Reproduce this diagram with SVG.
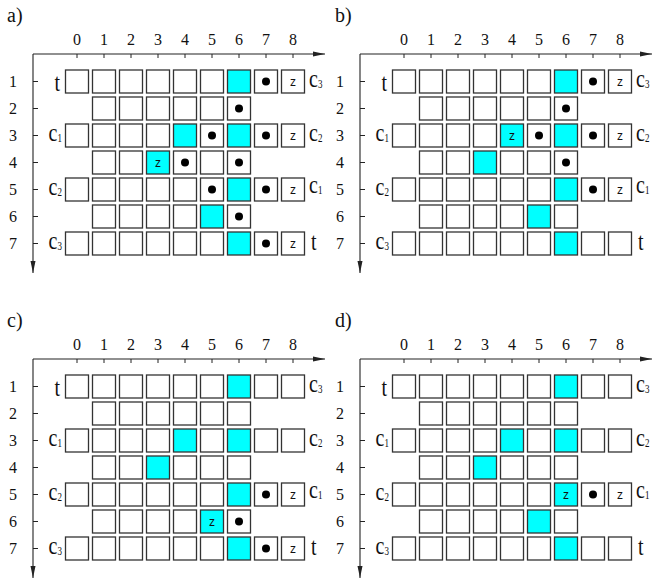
<svg xmlns="http://www.w3.org/2000/svg" xmlns:xlink="http://www.w3.org/1999/xlink" width="652" height="583" viewBox="0 0 652 583">
<style>
.bx{fill:#fff;stroke:#333;stroke-width:1.3}
.cyan{fill:#00ffff;stroke:#333;stroke-width:1.3}
.ax{stroke:#222;stroke-width:1.1;fill:none}
.tk{stroke:#222;stroke-width:1;fill:none}
.num{font-size:16px;text-anchor:middle;fill:#111}
.lab{font-size:20px;fill:#111}
.end{text-anchor:end}
.sub{font-size:9px}
.z{font-size:12px;text-anchor:middle;fill:#111}
.pl{font-size:20px;fill:#111}
.dot{fill:#000}
</style>
<defs>
<marker id="ah" markerWidth="12" markerHeight="6" refX="12" refY="3" orient="auto" markerUnits="userSpaceOnUse"><path d="M0,0.5 L12,3 L0,5.5 Z" fill="#222"/></marker>
<g id="frame">
  <g id="axes">
    <path class="ax" d="M33,54 H325" marker-end="url(#ah)"/>
    <path class="ax" d="M33,54 V273" marker-end="url(#ah)"/>
    <path class="tk" d="M77,54v4M104,54v4M131,54v4M158,54v4M185,54v4M212,54v4M239,54v4M266,54v4M293,54v4"/>
    <path class="tk" d="M33,81.5h5M33,108.5h5M33,135.5h5M33,162.5h5M33,189.5h5M33,216.5h5M33,243.5h5"/>
  </g>
  <g id="col-labels" font-family="'Liberation Serif', 'Times New Roman', 'DejaVu Serif', serif">
    <text class="num" x="77" y="45">0</text><text class="num" x="104" y="45">1</text><text class="num" x="131" y="45">2</text>
    <text class="num" x="158" y="45">3</text><text class="num" x="185" y="45">4</text><text class="num" x="212" y="45">5</text>
    <text class="num" x="239" y="45">6</text><text class="num" x="266" y="45">7</text><text class="num" x="293" y="45">8</text>
  </g>
  <g id="row-labels" font-family="'Liberation Serif', 'Times New Roman', 'DejaVu Serif', serif">
    <text class="num" x="13" y="87">1</text><text class="num" x="13" y="114">2</text><text class="num" x="13" y="141">3</text>
    <text class="num" x="13" y="168">4</text><text class="num" x="13" y="195">5</text><text class="num" x="13" y="222">6</text>
    <text class="num" x="13" y="249">7</text>
  </g>
  <g id="side-labels" font-family="'Liberation Serif', 'Times New Roman', 'DejaVu Serif', serif">
    <text class="lab end" transform="translate(60,91) scale(1,1.3)">t</text>
    <text class="lab end" transform="translate(62,140.5) scale(1,1.3)">c<tspan class="sub" dy="1.5">1</tspan></text>
    <text class="lab end" transform="translate(62,194.5) scale(1,1.3)">c<tspan class="sub" dy="1.5">2</tspan></text>
    <text class="lab end" transform="translate(62,248.5) scale(1,1.3)">c<tspan class="sub" dy="1.5">3</tspan></text>
    <text class="lab" transform="translate(309,86.5) scale(1,1.3)">c<tspan class="sub" dy="1.5">3</tspan></text>
    <text class="lab" transform="translate(309,140.5) scale(1,1.3)">c<tspan class="sub" dy="1.5">2</tspan></text>
    <text class="lab" transform="translate(309,192.5) scale(1,1.3)">c<tspan class="sub" dy="1.5">1</tspan></text>
    <text class="lab" transform="translate(311,250) scale(1,1.3)">t</text>
  </g>
</g>
<g id="grid">
  <g id="row1">
    <rect class="bx" x="65.5" y="70" width="23" height="23"/><rect class="bx" x="92.5" y="70" width="23" height="23"/><rect class="bx" x="119.5" y="70" width="23" height="23"/>
    <rect class="bx" x="146.5" y="70" width="23" height="23"/><rect class="bx" x="173.5" y="70" width="23" height="23"/><rect class="bx" x="200.5" y="70" width="23" height="23"/>
    <rect class="cyan" x="227.5" y="70" width="23" height="23"/><rect class="bx" x="254.5" y="70" width="23" height="23"/><rect class="bx" x="281.5" y="70" width="23" height="23"/>
  </g>
  <g id="row2">
    <rect class="bx" x="92.5" y="97" width="23" height="23"/><rect class="bx" x="119.5" y="97" width="23" height="23"/><rect class="bx" x="146.5" y="97" width="23" height="23"/>
    <rect class="bx" x="173.5" y="97" width="23" height="23"/><rect class="bx" x="200.5" y="97" width="23" height="23"/><rect class="bx" x="227.5" y="97" width="23" height="23"/>
  </g>
  <g id="row3">
    <rect class="bx" x="65.5" y="124" width="23" height="23"/><rect class="bx" x="92.5" y="124" width="23" height="23"/><rect class="bx" x="119.5" y="124" width="23" height="23"/>
    <rect class="bx" x="146.5" y="124" width="23" height="23"/><rect class="cyan" x="173.5" y="124" width="23" height="23"/><rect class="bx" x="200.5" y="124" width="23" height="23"/>
    <rect class="cyan" x="227.5" y="124" width="23" height="23"/><rect class="bx" x="254.5" y="124" width="23" height="23"/><rect class="bx" x="281.5" y="124" width="23" height="23"/>
  </g>
  <g id="row4">
    <rect class="bx" x="92.5" y="151" width="23" height="23"/><rect class="bx" x="119.5" y="151" width="23" height="23"/><rect class="cyan" x="146.5" y="151" width="23" height="23"/>
    <rect class="bx" x="173.5" y="151" width="23" height="23"/><rect class="bx" x="200.5" y="151" width="23" height="23"/><rect class="bx" x="227.5" y="151" width="23" height="23"/>
  </g>
  <g id="row5">
    <rect class="bx" x="65.5" y="178" width="23" height="23"/><rect class="bx" x="92.5" y="178" width="23" height="23"/><rect class="bx" x="119.5" y="178" width="23" height="23"/>
    <rect class="bx" x="146.5" y="178" width="23" height="23"/><rect class="bx" x="173.5" y="178" width="23" height="23"/><rect class="bx" x="200.5" y="178" width="23" height="23"/>
    <rect class="cyan" x="227.5" y="178" width="23" height="23"/><rect class="bx" x="254.5" y="178" width="23" height="23"/><rect class="bx" x="281.5" y="178" width="23" height="23"/>
  </g>
  <g id="row6">
    <rect class="bx" x="92.5" y="205" width="23" height="23"/><rect class="bx" x="119.5" y="205" width="23" height="23"/><rect class="bx" x="146.5" y="205" width="23" height="23"/>
    <rect class="bx" x="173.5" y="205" width="23" height="23"/><rect class="cyan" x="200.5" y="205" width="23" height="23"/><rect class="bx" x="227.5" y="205" width="23" height="23"/>
  </g>
  <g id="row7">
    <rect class="bx" x="65.5" y="232" width="23" height="23"/><rect class="bx" x="92.5" y="232" width="23" height="23"/><rect class="bx" x="119.5" y="232" width="23" height="23"/>
    <rect class="bx" x="146.5" y="232" width="23" height="23"/><rect class="bx" x="173.5" y="232" width="23" height="23"/><rect class="bx" x="200.5" y="232" width="23" height="23"/>
    <rect class="cyan" x="227.5" y="232" width="23" height="23"/><rect class="bx" x="254.5" y="232" width="23" height="23"/><rect class="bx" x="281.5" y="232" width="23" height="23"/>
  </g>
</g>
</defs>

<g id="panel-a">
  <text class="pl" x="7" y="22" font-family="'Liberation Serif', 'Times New Roman', 'DejaVu Serif', serif">a)</text>
  <use xlink:href="#frame" href="#frame"/>
  <use xlink:href="#grid" href="#grid"/>
  <g id="a-marks" font-family="'Liberation Sans', Arial, sans-serif">
    <circle class="dot" cx="266" cy="81.5" r="4"/><circle class="dot" cx="239" cy="108.5" r="4"/>
    <circle class="dot" cx="212" cy="135.5" r="4"/><circle class="dot" cx="266" cy="135.5" r="4"/>
    <circle class="dot" cx="185" cy="162.5" r="4"/><circle class="dot" cx="239" cy="162.5" r="4"/>
    <circle class="dot" cx="212" cy="189.5" r="4"/><circle class="dot" cx="266" cy="189.5" r="4"/>
    <circle class="dot" cx="239" cy="216.5" r="4"/><circle class="dot" cx="266" cy="243.5" r="4"/>
    <text class="z" x="293" y="85.5">z</text><text class="z" x="293" y="139.5">z</text><text class="z" x="158" y="166.5">z</text>
    <text class="z" x="293" y="193.5">z</text><text class="z" x="293" y="247.5">z</text>
  </g>
</g>

<g id="panel-b" transform="translate(327,0)">
  <text class="pl" x="8" y="22" font-family="'Liberation Serif', 'Times New Roman', 'DejaVu Serif', serif">b)</text>
  <use xlink:href="#frame" href="#frame"/>
  <use xlink:href="#grid" href="#grid"/>
  <g id="b-marks" font-family="'Liberation Sans', Arial, sans-serif">
    <circle class="dot" cx="266" cy="81.5" r="4"/><circle class="dot" cx="239" cy="108.5" r="4"/>
    <circle class="dot" cx="212" cy="135.5" r="4"/><circle class="dot" cx="266" cy="135.5" r="4"/>
    <circle class="dot" cx="239" cy="162.5" r="4"/><circle class="dot" cx="266" cy="189.5" r="4"/>
    <text class="z" x="293" y="85.5">z</text><text class="z" x="185" y="139.5">z</text><text class="z" x="293" y="139.5">z</text>
    <text class="z" x="293" y="193.5">z</text>
  </g>
</g>

<g id="panel-c" transform="translate(0,305)">
  <text class="pl" x="7" y="22" font-family="'Liberation Serif', 'Times New Roman', 'DejaVu Serif', serif">c)</text>
  <use xlink:href="#frame" href="#frame"/>
  <use xlink:href="#grid" href="#grid"/>
  <g id="c-marks" font-family="'Liberation Sans', Arial, sans-serif">
    <circle class="dot" cx="266" cy="189.5" r="4"/><circle class="dot" cx="239" cy="216.5" r="4"/>
    <circle class="dot" cx="266" cy="243.5" r="4"/>
    <text class="z" x="293" y="193.5">z</text><text class="z" x="212" y="220.5">z</text><text class="z" x="293" y="247.5">z</text>
  </g>
</g>

<g id="panel-d" transform="translate(327,305)">
  <text class="pl" x="8" y="22" font-family="'Liberation Serif', 'Times New Roman', 'DejaVu Serif', serif">d)</text>
  <use xlink:href="#frame" href="#frame"/>
  <use xlink:href="#grid" href="#grid"/>
  <g id="d-marks" font-family="'Liberation Sans', Arial, sans-serif">
    <circle class="dot" cx="266" cy="189.5" r="4"/>
    <text class="z" x="239" y="193.5">z</text><text class="z" x="293" y="193.5">z</text>
  </g>
</g>
</svg>
